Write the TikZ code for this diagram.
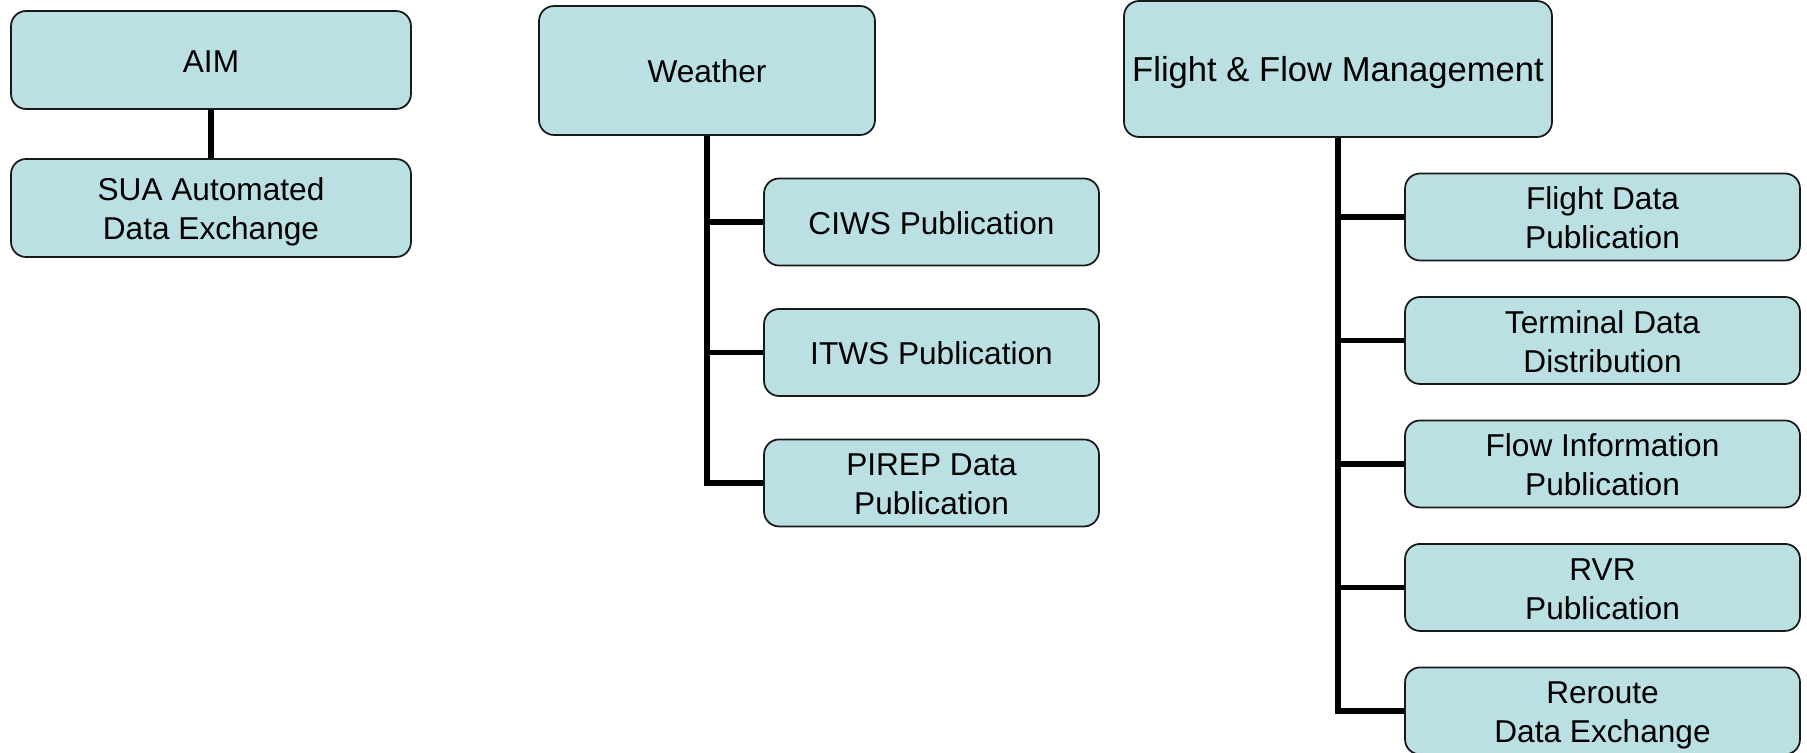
\documentclass[tikz,border=0pt]{standalone}
\usepackage{fontspec}
\setmainfont{Liberation Sans}
\usetikzlibrary{positioning}
\definecolor{boxfill}{RGB}{187,224,227}
\tikzset{
	unit/.style={draw=black!90, line width=1pt, fill=boxfill, rounded corners=0.3cm, align=flush center, text width=6cm, inner sep=0pt, font=\fontsize{18}{22.3}\selectfont,
		execute at begin node={\spaceskip=0pt\xspaceskip=0pt\rule{0pt}{18pt}}, execute at end node={\rule[-4pt]{0pt}{4pt}}},
	aimbox/.style={unit, minimum width=8cm, minimum height=1.96cm},
	wxbox/.style={unit, minimum width=6.72cm, minimum height=2.58cm},
	wxsub/.style={unit, minimum width=6.7cm, minimum height=1.74cm, node distance=2.61cm},
	ffmbox/.style={unit, text width=8.4cm, minimum width=8.56cm, minimum height=2.72cm, font=\fontsize{19.7}{23}\selectfont},
	ffmsub/.style={unit, minimum width=7.9cm, minimum height=1.74cm, node distance=2.47cm},
	link/.style={line width=3.3pt},
}

\begin{document}
\begin{tikzpicture}[x=0.02cm, y=-0.02cm]
			\useasboundingbox (0,0) rectangle (1807,753);

			\node[aimbox] (aim) at (211,60) {AIM};
			\node[aimbox] (sua) at (211,208) {SUA Automated\\Data Exchange};

			\node[wxbox] (wx) at (707,70.5) {Weather};
			\node[wxsub] (ciws) at (931.5,222) {CIWS Publication};
			\node[wxsub, below of=ciws] (itws) {ITWS Publication};
			\node[wxsub, below of=itws] (pirep) {PIREP Data\\Publication};

			\node[ffmbox] (ffm) at (1338,69) {Flight \& Flow Management};
			\node[ffmsub] (fdata) at (1602.5,217) {Flight Data\\Publication};
			\node[ffmsub, below of=fdata] (tdata) {Terminal Data\\Distribution};
			\node[ffmsub, below of=tdata] (flow) {Flow Information\\Publication};
			\node[ffmsub, below of=flow] (rvr) {RVR\\Publication};
			\node[ffmsub, below of=rvr] (reroute) {Reroute\\Data Exchange};

			\draw[link] (aim) -- (sua);

			\draw[link] (wx.south) |- (pirep.west);
			\draw[link] (wx.south |- ciws.west) -- (ciws.west);
			\draw[link] (wx.south |- itws.west) -- (itws.west);

			\draw[link] (ffm.south) |- (reroute.west);
			\draw[link] (ffm.south |- fdata.west) -- (fdata.west);
			\draw[link] (ffm.south |- tdata.west) -- (tdata.west);
			\draw[link] (ffm.south |- flow.west) -- (flow.west);
			\draw[link] (ffm.south |- rvr.west) -- (rvr.west);
		\end{tikzpicture}
\end{document}
